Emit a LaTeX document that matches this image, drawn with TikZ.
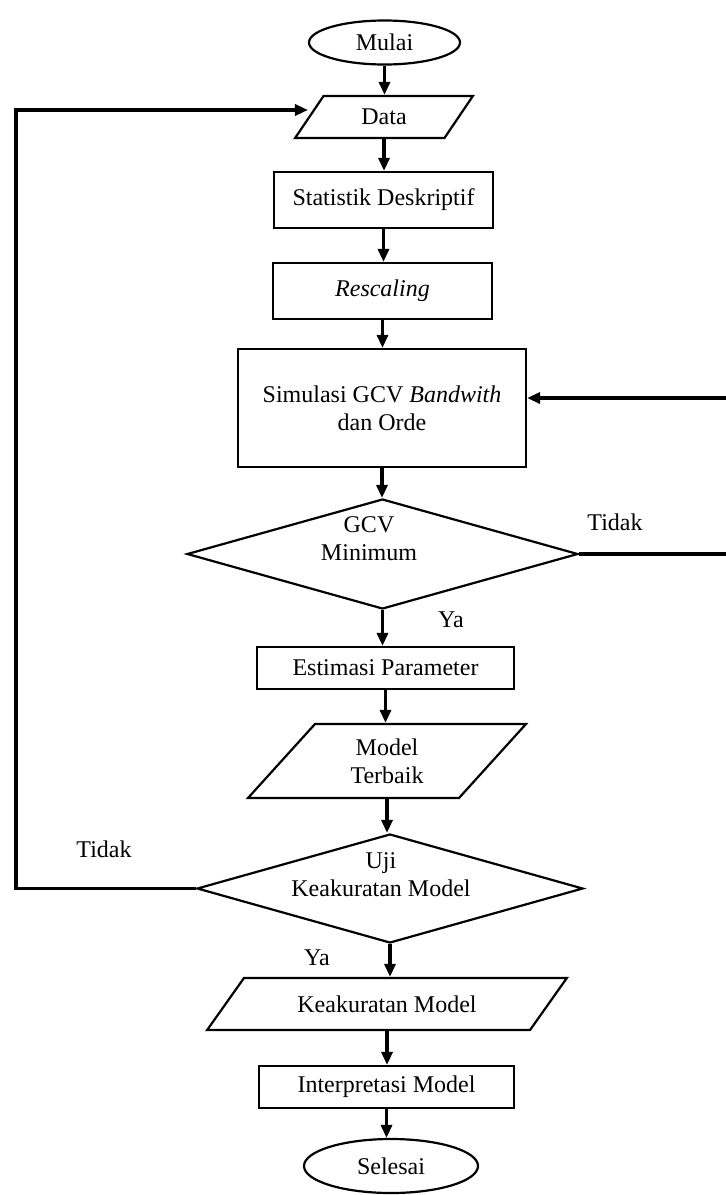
\documentclass[tikz,border=0pt]{standalone}
\usepackage{fontspec}
\setmainfont{Liberation Serif}
\usetikzlibrary{shapes.geometric,arrows.meta}
\begin{document}
\begin{tikzpicture}[x=0.5pt,y=-0.5pt,
  every node/.style={font=\fontsize{12}{14}\selectfont},
  box/.style={draw,line width=1.1pt,rectangle,inner sep=0pt,align=center},
  oval/.style={draw,line width=1.1pt,ellipse,inner sep=0pt},
  dec/.style={draw,line width=1.1pt,diamond,inner sep=0pt},
  io/.style={draw,line width=1.1pt,trapezium,trapezium stretches=true,inner sep=0pt,align=center},
  arr/.style={line width=1.6pt,-{Triangle[length=6.5pt,width=5.5pt]}},
  txt/.style={align=center,inner sep=0pt}]
\useasboundingbox (0,0) rectangle (725,1195);

\node[oval,minimum width=75.5pt,minimum height=22pt] (mulai) at (384.5,42.5) {Mulai};
\node[io,minimum width=89pt,minimum height=21pt,trapezium left angle=56.3,trapezium right angle=123.7] (data) at (384,117) {Data};
\node[box,minimum width=109.5pt,minimum height=28pt] (stat) at (383.5,200) {Statistik Deskriptif};
\node[box,minimum width=109.5pt,minimum height=28pt] (resc) at (382.5,291) {\textit{Rescaling}};
\node[box,minimum width=144pt,minimum height=59pt] (sim) at (382,408) {Simulasi GCV \textit{Bandwith}\\dan Orde};
\node[dec,minimum width=195.5pt,minimum height=55pt] (gcv) at (382.5,554) {};
\node[txt] (gcvt) at (369,539) {GCV\\Minimum};
\node[box,minimum width=128.5pt,minimum height=21pt] (est) at (385.5,668) {Estimasi Parameter};
\node[io,minimum width=140pt,minimum height=37pt,trapezium left angle=52.9,trapezium right angle=127.1] (model) at (387,761) {Model\\Terbaik};
\node[dec,minimum width=193pt,minimum height=54.5pt] (uji) at (390,888.5) {};
\node[txt] (ujit) at (381,875) {Uji\\Keakuratan Model};
\node[io,minimum width=180pt,minimum height=26pt,trapezium left angle=36.2,trapezium right angle=143.8] (keak) at (387,1004) {Keakuratan Model};
\node[box,minimum width=127.5pt,minimum height=21pt] (interp) at (386.5,1087) {Interpretasi Model};
\node[oval,minimum width=87pt,minimum height=27pt] (sel) at (391,1166) {Selesai};

\node (t1) at (615,522) {Tidak};
\node (t2) at (104,849) {Tidak};
\node (y1) at (451,620) {Ya};
\node (y2) at (317,958) {Ya};

\foreach \a/\b in {mulai/data,data/stat,stat/resc,resc/sim,sim/gcv,gcv/est,est/model,model/uji,uji/keak,keak/interp,interp/sel}
  \draw[arr] (\a.south) -- (\a.south |- \b.north);

\coordinate (rx) at (730,0);
\draw[arr] (gcv.east) -- (gcv.east -| rx) |- ([yshift=5pt]sim.east);
\coordinate (lx) at (16,0);
\draw[arr] (uji.west) -- (uji.west -| lx) |- ([yshift=3.5pt]data.west);
\end{tikzpicture}
\end{document}
